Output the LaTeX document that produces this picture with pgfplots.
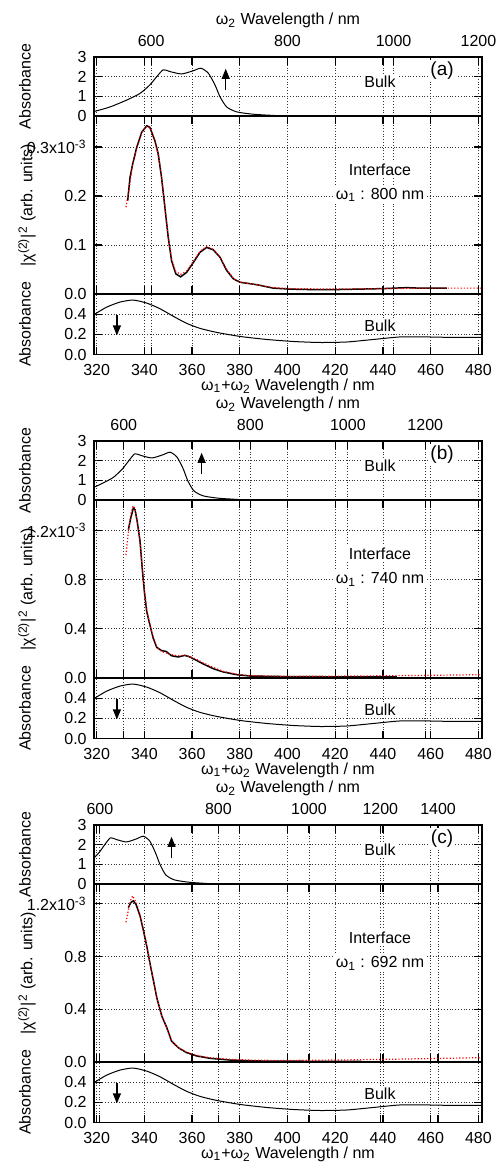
\documentclass[border=0pt]{standalone}
\usepackage{fontspec}
\setmainfont{Liberation Sans}
\usepackage{pgfplots}
\usepackage{pgfplotstable}
\pgfplotsset{compat=1.18}
\usetikzlibrary{arrows.meta}

% bulk absorbance vs omega1+omega2 wavelength (same in all panels)
\pgfplotstableread{
x y
318.5 0.39
324.2 0.47
329.8 0.52
335.3 0.54
341.0 0.51
346.5 0.455
352.1 0.38
357.7 0.31
363.3 0.26
370.3 0.22
380.1 0.18
391.3 0.15
402.4 0.13
413.6 0.12
424.8 0.125
436.0 0.15
447.2 0.175
458.4 0.175
469.5 0.17
481.5 0.17
}\bulklow

% bulk absorbance on the omega2 scale, placed on the sum axis of each panel
\pgfplotstableread{
x y
318.0 0.20
319.3 0.24
325.6 0.46
332.6 0.81
338.2 1.15
342.3 1.58
345.2 2.00
347.9 2.35
350.7 2.26
355.6 2.14
360.5 2.30
363.7 2.43
366.8 2.18
369.6 1.58
371.7 0.98
374.5 0.46
378.7 0.21
385.7 0.09
395.5 0.02
400.0 0.00
482.0 0.00
}\bulkhiA
\pgfplotstableread{
x y
309.3 0.24
315.2 0.46
321.8 0.81
327.0 1.15
330.8 1.58
333.5 2.00
336.0 2.35
338.7 2.26
343.2 2.14
347.8 2.30
350.8 2.43
353.7 2.18
356.3 1.58
358.2 0.98
360.8 0.46
364.7 0.21
371.2 0.09
380.3 0.02
384.4 0.00
482.0 0.00
}\bulkhiB
\pgfplotstableread{
x y
300.6 0.24
306.2 0.46
312.3 0.81
317.3 1.15
320.9 1.58
323.4 2.00
325.8 2.35
328.3 2.26
332.5 2.14
336.8 2.30
339.6 2.43
342.3 2.18
344.7 1.58
346.6 0.98
349.0 0.46
352.6 0.21
358.7 0.09
367.2 0.02
371.0 0.00
482.0 0.00
}\bulkhiC

% interface |chi(2)|^2, measured (black) and fit (red)
\pgfplotstableread{
x y
333.0 0.190
334.0 0.238
335.1 0.265
336.8 0.299
338.9 0.330
341.0 0.343
342.3 0.340
344.4 0.313
345.8 0.286
347.2 0.238
348.6 0.177
350.0 0.116
351.4 0.068
353.2 0.041
355.2 0.035
357.7 0.044
360.5 0.064
363.3 0.085
366.1 0.095
368.9 0.090
371.7 0.075
374.5 0.048
377.3 0.031
380.1 0.024
387.1 0.019
394.0 0.012
401.0 0.010
410.0 0.009
420.0 0.009
430.0 0.010
440.0 0.011
450.0 0.013
455.0 0.012
466.8 0.012
}\intA
\pgfplotstableread{
x y
332.3 0.177
333.5 0.210
335.0 0.262
337.0 0.300
339.0 0.330
341.0 0.342
342.5 0.338
344.5 0.310
346.0 0.280
347.2 0.240
348.6 0.180
350.0 0.118
351.4 0.072
353.2 0.046
355.2 0.040
357.7 0.047
360.5 0.066
363.3 0.087
366.1 0.097
368.9 0.091
371.7 0.075
374.5 0.050
377.3 0.032
380.1 0.024
387.0 0.019
394.0 0.013
401.0 0.011
420.0 0.010
440.0 0.011
460.0 0.012
481.0 0.012
}\fitA
\pgfplotstableread{
x y
333.3 1.206
334.3 1.300
335.4 1.382
336.1 1.368
337.0 1.273
338.2 1.111
339.1 0.894
340.0 0.704
341.0 0.541
342.3 0.433
343.7 0.325
345.2 0.249
347.3 0.222
349.1 0.216
351.4 0.181
354.2 0.171
357.0 0.184
359.1 0.171
361.9 0.143
364.7 0.114
368.9 0.076
373.1 0.049
378.7 0.027
384.3 0.016
401.0 0.011
420.0 0.010
445.8 0.009
}\intB
\pgfplotstableread{
x y
332.3 1.00
333.5 1.22
334.5 1.35
335.3 1.40
336.0 1.38
337.0 1.28
338.2 1.11
339.1 0.90
340.0 0.71
341.0 0.55
342.3 0.44
343.7 0.33
345.2 0.25
347.3 0.215
349.0 0.205
351.4 0.19
354.2 0.18
357.0 0.185
359.0 0.175
362.0 0.15
365.0 0.12
369.0 0.085
373.0 0.055
379.0 0.030
384.0 0.020
400.0 0.013
420.0 0.015
440.0 0.018
460.0 0.022
481.0 0.027
}\fitB
\pgfplotstableread{
x y
333.3 1.171
334.3 1.209
335.4 1.222
336.5 1.196
338.2 1.108
339.5 1.007
341.0 0.880
342.3 0.754
343.7 0.627
345.2 0.489
347.3 0.349
349.4 0.261
351.4 0.159
354.2 0.109
357.7 0.071
361.9 0.046
367.5 0.028
375.9 0.015
387.1 0.008
400.0 0.006
431.0 0.005
}\intC
\pgfplotstableread{
x y
332.3 1.06
333.5 1.17
334.5 1.24
335.1 1.26
336.0 1.23
337.0 1.19
338.2 1.11
339.5 1.01
341.0 0.88
342.3 0.755
343.7 0.63
345.2 0.49
347.3 0.35
349.4 0.26
351.4 0.16
354.2 0.11
357.7 0.075
361.9 0.050
367.5 0.032
376.0 0.020
387.0 0.013
400.0 0.012
420.0 0.015
440.0 0.020
460.0 0.026
481.0 0.033
}\fitC

\tikzset{
  absline/.style={black, line width=0.5pt, smooth, tension=0.4},
  meas/.style={black, line width=0.75pt},
  fit/.style={red, densely dotted, line width=0.6pt},
  tag/.style={fill=white, inner sep=1pt, font=\fontsize{8}{9.6}\selectfont},
  arr/.style={line width=0.6pt, -{Triangle[length=5pt,width=4pt]}},
  lab/.style={inner sep=0pt, font=\fontsize{8}{9.6}\selectfont},
}

\pgfplotsset{
  sub/.style={
    scale only axis, width=194pt,
    xmin=318.9, xmax=481.5,
    anchor=north west,
    font=\fontsize{8}{9.6}\selectfont,
    axis line style={line width=0.8pt},
    tick align=inside, major tick length=4pt,
    tick style={line width=0.6pt, black},
    grid=major,
    grid style={densely dotted, line width=0.4pt, black!80},
    yticklabel style={anchor=east, inner sep=0pt, xshift=-3.5pt},
  },
  hiax/.style={sub, height=29.5pt, ymin=0, ymax=3,
    ytick={0,1,2,3}, yticklabels={0,1,2,3},
    xticklabel pos=upper, xtick pos=upper,
    xticklabel style={anchor=center, inner sep=0pt, yshift=8.2pt},
    extra x ticks={320,340,...,480}, extra x tick labels={},
    extra x tick style={grid=major}},
  midax/.style={sub, height=89pt, ymin=0,
    xtick={320,340,...,480}, xticklabels={},
    extra x tick labels={}, extra x tick style={grid=major}},
  loax/.style={sub, height=30.3pt, ymin=0, ymax=0.6,
    ytick={0,0.2,0.4}, yticklabels={0.0,0.2,0.4},
    xtick={320,340,...,480},
    xticklabels={320,340,360,380,400,420,440,460,480},
    xticklabel pos=lower, xtick pos=lower,
    xticklabel style={anchor=center, inner sep=0pt, yshift=-7.75pt},
    extra x tick labels={}, extra x tick style={grid=major}},
}

\begin{document}
\begin{tikzpicture}
\useasboundingbox (0,0) rectangle (250.5pt,-582pt);

% ================= panel (a) =================
\begin{axis}[hiax, at={(47pt,-28.5pt)},
  xtick={342.86,400,444.44,480}, xticklabels={600,800,1000,1200}]
\addplot[absline] table {\bulkhiA};
\draw[arr] (axis cs:374.1,1.3) -- (axis cs:374.1,2.4);
\node[tag] at (rel axis cs:0.737,0.576) {Bulk};
\node[tag, font=\fontsize{9.5}{11}\selectfont] at (rel axis cs:0.897,0.763) {(a)};
\end{axis}
\begin{axis}[midax, at={(47pt,-58pt)}, ymax=0.363,
  ytick={0,0.1,0.2,0.3}, yticklabels={0.0,0.1,0.2,{0.3x10\textsuperscript{-3}}},
  extra x ticks={342.86,400,444.44,480}]
\addplot[meas] table {\intA};
\addplot[fit] table {\fitA};
\node[tag] at (rel axis cs:0.737,0.697) {Interface};
\node[tag] at (rel axis cs:0.737,0.556) {ω\textsubscript{1} : 800 nm};
\end{axis}
\begin{axis}[loax, at={(47pt,-147pt)},
  extra x ticks={342.86,400,444.44,480}]
\addplot[absline] table {\bulklow};
\draw[arr] (axis cs:328.5,0.39) -- (axis cs:328.5,0.19);
\node[tag] at (rel axis cs:0.737,0.475) {Bulk};
\end{axis}

% ================= panel (b) =================
\begin{axis}[hiax, at={(47pt,-220.5pt)},
  xtick={331.35,384.42,425.29,457.73}, xticklabels={600,800,1000,1200}]
\addplot[absline] table {\bulkhiB};
\draw[arr] (axis cs:364.0,1.3) -- (axis cs:364.0,2.4);
\node[tag] at (rel axis cs:0.737,0.576) {Bulk};
\node[tag, font=\fontsize{9.5}{11}\selectfont] at (rel axis cs:0.897,0.763) {(b)};
\end{axis}
\begin{axis}[midax, at={(47pt,-250pt)}, ymax=1.447,
  ytick={0,0.4,0.8,1.2}, yticklabels={0.0,0.4,0.8,{1.2x10\textsuperscript{-3}}},
  extra x ticks={331.35,384.42,425.29,457.73}]
\addplot[meas] table {\intB};
\addplot[fit] table {\fitB};
\node[tag] at (rel axis cs:0.737,0.697) {Interface};
\node[tag] at (rel axis cs:0.737,0.556) {ω\textsubscript{1} : 740 nm};
\end{axis}
\begin{axis}[loax, at={(47pt,-339pt)},
  extra x ticks={331.35,384.42,425.29,457.73}]
\addplot[absline] table {\bulklow};
\draw[arr] (axis cs:328.5,0.39) -- (axis cs:328.5,0.19);
\node[tag] at (rel axis cs:0.737,0.475) {Bulk};
\end{axis}

% ================= panel (c) =================
\begin{axis}[hiax, at={(47pt,-412.5pt)},
  xtick={321.36,371.05,408.98,438.90,463.10}, xticklabels={600,800,1000,1200,1400}]
\addplot[absline] table {\bulkhiC};
\draw[arr] (axis cs:351.4,1.3) -- (axis cs:351.4,2.4);
\node[tag] at (rel axis cs:0.737,0.576) {Bulk};
\node[tag, font=\fontsize{9.5}{11}\selectfont] at (rel axis cs:0.897,0.763) {(c)};
\end{axis}
\begin{axis}[midax, at={(47pt,-442pt)}, ymax=1.35,
  ytick={0,0.4,0.8,1.2}, yticklabels={0.0,0.4,0.8,{1.2x10\textsuperscript{-3}}},
  extra x ticks={321.36,371.05,408.98,438.90,463.10}]
\addplot[meas] table {\intC};
\addplot[fit] table {\fitC};
\node[tag] at (rel axis cs:0.737,0.697) {Interface};
\node[tag] at (rel axis cs:0.737,0.556) {ω\textsubscript{1} : 692 nm};
\end{axis}
\begin{axis}[loax, at={(47pt,-531pt)},
  extra x ticks={321.36,371.05,408.98,438.90,463.10}]
\addplot[absline] table {\bulklow};
\draw[arr] (axis cs:328.5,0.39) -- (axis cs:328.5,0.19);
\node[tag] at (rel axis cs:0.737,0.475) {Bulk};
\end{axis}

% ================= axis titles =================
\foreach \T in {28.5,220.5,412.5} {
  \node[lab] at (144pt,{-(\T-18.2)*1pt}) {ω\textsubscript{2} Wavelength / nm};
  \node[lab] at (144pt,{-(\T+164.5)*1pt}) {ω\textsubscript{1}+ω\textsubscript{2} Wavelength / nm};
  \node[lab, rotate=90] at (12.5pt,{-(\T+14.75)*1pt}) {Absorbance};
  \node[lab, rotate=90] at (13.5pt,{-(\T+74)*1pt}) {|χ\textsuperscript{(2)}|\textsuperscript{2} (arb. units)};
  \node[lab, rotate=90] at (12.5pt,{-(\T+133.6)*1pt}) {Absorbance};
}
\end{tikzpicture}
\end{document}
